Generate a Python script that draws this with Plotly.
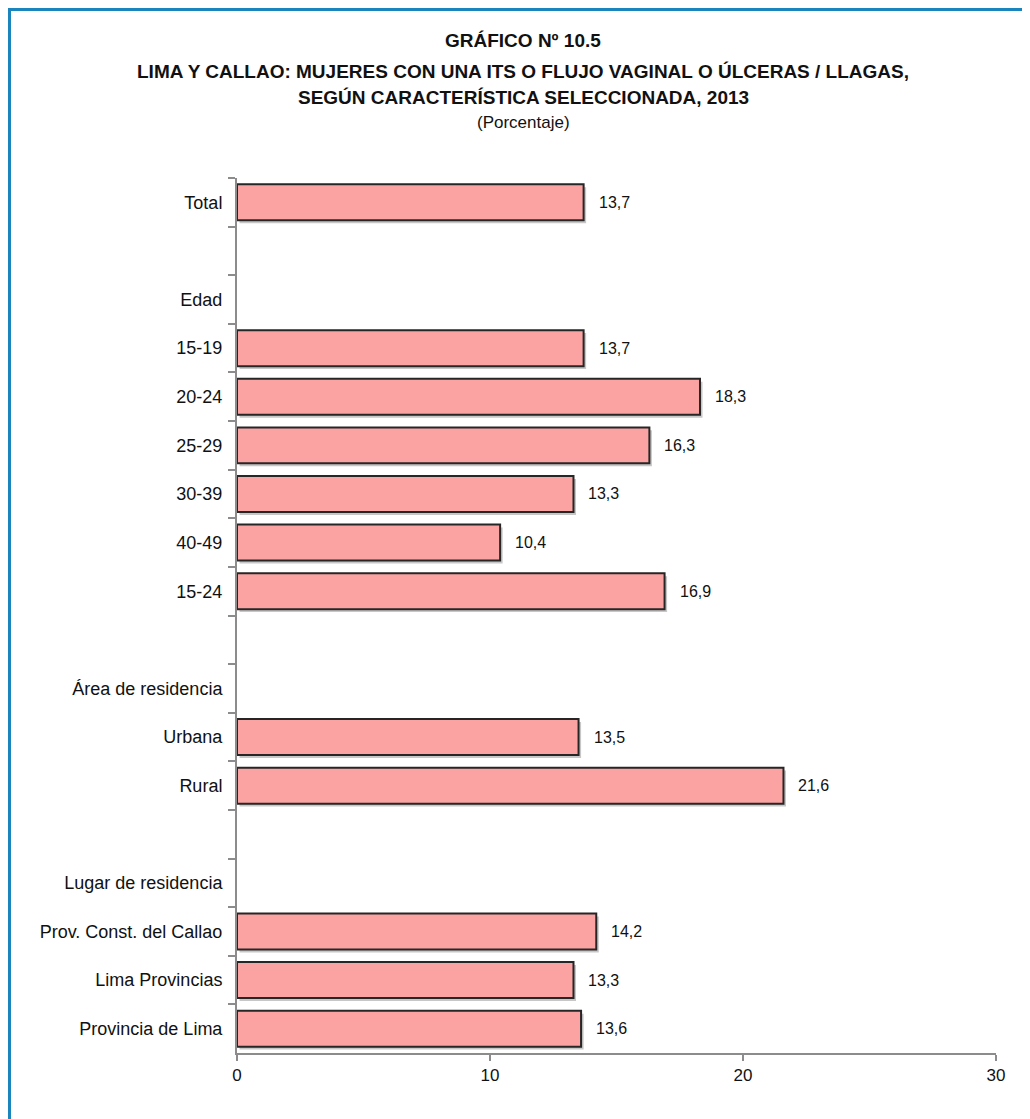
import plotly.graph_objects as go

categories = ["Total", " ", "Edad", "15-19", "20-24", "25-29", "30-39", "40-49", "15-24",
              "  ", "Área de residencia", "Urbana", "Rural", "   ", "Lugar de residencia",
              "Prov. Const. del Callao", "Lima Provincias", "Provincia de Lima"]
values = [13.7, None, None, 13.7, 18.3, 16.3, 13.3, 10.4, 16.9,
          None, None, 13.5, 21.6, None, None, 14.2, 13.3, 13.6]
x_ticks = [0, 10, 20, 30]

FONT = "Liberation Sans Narrow, Arial Narrow, Liberation Sans, Arial, sans-serif"
labels = [("" if v is None else f"{v:.1f}".replace(".", ",")) for v in values]

BW = 0.74
fig = go.Figure()
# soft shadow
fig.add_trace(go.Bar(
    y=categories, x=values, orientation="h", base=0.1,
    marker=dict(color="rgba(0,0,0,0.22)", line=dict(width=0)),
    width=BW, offset=-BW / 2 + 0.06, hoverinfo="skip",
))
fig.add_trace(go.Bar(
    y=categories, x=values, orientation="h",
    marker=dict(color="#FBA3A3", line=dict(color="#262626", width=2)),
    width=BW, offset=-BW / 2, hoverinfo="skip",
))
for c, v, t in zip(categories, values, labels):
    if v is None:
        continue
    fig.add_annotation(x=v, y=c, text=t, xanchor="left", yanchor="middle",
                       xshift=13, showarrow=False,
                       font=dict(family=FONT, size=16, color="#111"))

# page has an 8px body margin
OFF = 8
W, H = 1030 - OFF, 1119 - OFF
L, R, T, B = 237 - OFF, 34, 178 - OFF, 66
pw, ph = W - L - R, H - T - B

def px_x(p):
    return (p - OFF - L) / pw

def px_y(p):
    return 1 - (p - OFF - T) / ph

fig.add_shape(type="path", xref="paper", yref="paper",
              path=f"M {px_x(9.5)},{px_y(1130)} L {px_x(9.5)},{px_y(9.5)} L {px_x(1040)},{px_y(9.5)}",
              line=dict(color="#1A85BD", width=3))

titles = [
    ("<b>GRÁFICO Nº 10.5</b>", 40, 19),
    ("<b>LIMA Y CALLAO: MUJERES CON UNA ITS O FLUJO VAGINAL O ÚLCERAS / LLAGAS,</b>", 72, 19),
    ("<b>SEGÚN CARACTERÍSTICA SELECCIONADA, 2013</b>", 97, 19),
    ("(Porcentaje)", 123, 17),
]
for txt, yp, fs in titles:
    fig.add_annotation(text=txt, xref="paper", yref="paper", x=px_x(523), y=px_y(yp),
                       xanchor="center", yanchor="middle", showarrow=False,
                       font=dict(family=FONT, size=fs, color="#111"))

fig.update_layout(
    width=W, height=H,
    margin=dict(l=L, r=R, t=T, b=B),
    paper_bgcolor="white", plot_bgcolor="white",
    showlegend=False, barmode="overlay",
    font=dict(family=FONT, size=17, color="#111"),
    xaxis=dict(range=[0, 30], tickvals=x_ticks, showgrid=False, zeroline=False,
               showline=True, linecolor="#8c8c8c", linewidth=2,
               ticks="outside", ticklen=6, tickcolor="#8c8c8c", tickwidth=2,
               tickfont=dict(family=FONT, size=17, color="#111")),
    yaxis=dict(type="category", categoryorder="array", categoryarray=categories,
               autorange="reversed", tickson="boundaries",
               showgrid=False, zeroline=False,
               showline=True, linecolor="#8c8c8c", linewidth=2,
               ticks="outside", ticklen=7, tickcolor="#8c8c8c", tickwidth=2,
               ticklabelstandoff=9,
               tickfont=dict(family=FONT, size=18, color="#111")),
)

fig.write_html("out.html")
